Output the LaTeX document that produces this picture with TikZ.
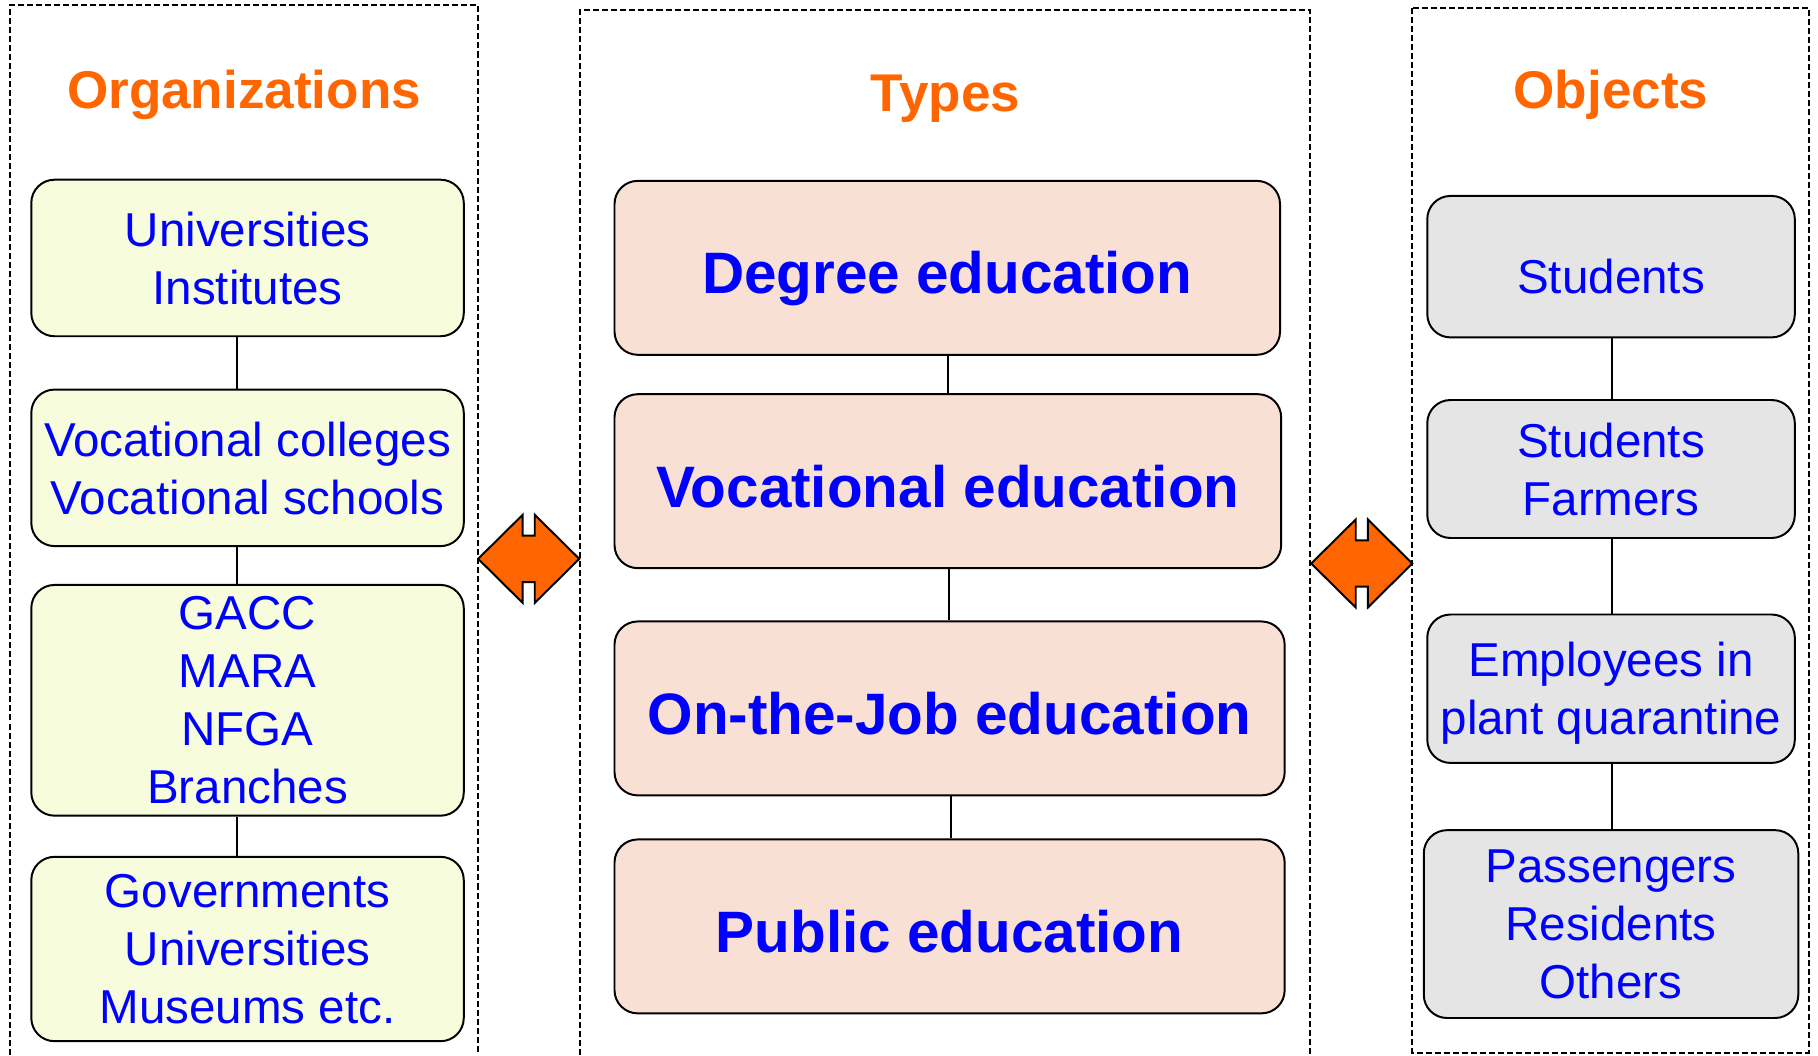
\documentclass[tikz,border=0pt]{standalone}
\usepackage{fontspec}
\setmainfont{Liberation Sans}
\usepackage{tikz}
\usepackage{xcolor}
\definecolor{titleorange}{RGB}{255,102,0}
\definecolor{textblue}{RGB}{0,0,255}
\definecolor{orgfill}{RGB}{247,252,220}
\definecolor{typefill}{RGB}{248,224,212}
\definecolor{objfill}{RGB}{229,229,229}
\tikzset{
  colframe/.style={
    draw, line width=0.85pt,
    dash pattern=on 2.6pt off 1.3pt
   }}
\tikzset{
  coltitle/.style={
    anchor=base, text=titleorange,
    font=\bfseries\fontsize{22.9}{27}\selectfont
   }}
\tikzset{
  card/.style={
    draw, line width=0.85pt, rounded corners=10pt,
    inner sep=0pt, align=center, text depth=0pt, text=textblue,
    font=\fontsize{20.5}{25}\selectfont, minimum width=#1
   }}
\tikzset{
  typecard/.style={
    card=#1, fill=typefill, text height=22.5pt, minimum height=75pt,
    font=\bfseries\fontsize{25.2}{30}\selectfont
   }}
\tikzset{
  link/.style={line width=0.85pt}}
\tikzset{
  dblarrow/.pic={
    \draw[fill=titleorange, line width=0.85pt, line join=miter]
      (-43.6,0) -- (-5.2,-38) -- (-5.2,-20) -- (5.2,-20) -- (5.2,-38)
      -- (43.6,0) -- (5.2,38) -- (5.2,20) -- (-5.2,20) -- (-5.2,38) -- cycle;
   }}

\begin{document}
\begin{tikzpicture}[x=0.5pt,y=-0.5pt]
    \useasboundingbox (0,0) rectangle (1568,910);
    \draw[colframe] (9,910) |- (412,4) -- (412,910);
    \draw[colframe] (500,910) |- (1130,9) -- (1130,910);
    \draw[colframe] (1218,7) rectangle (1560,908);

    \node[coltitle] (orgtitle) at (210.5,93.4) {Organizations};
    \node[coltitle] (typetitle) at (815.5,96.5) {Types};
    \node[coltitle] (objtitle) at (1389.5,93.4) {Objects};

    \node[card=186.5pt, fill=orgfill, minimum height=67.5pt] (L1) at (213.5,222.5) {Universities\\Institutes};
    \node[card=186.5pt, fill=orgfill, minimum height=67.5pt] (L2) at (213.5,403.5) {Vocational colleges\\Vocational schools};
    \node[card=186.5pt, fill=orgfill, minimum height=99.5pt] (L3) at (213.5,604) {GACC\\MARA\\NFGA\\Branches};
    \node[card=186.5pt, fill=orgfill, minimum height=79.5pt] (L4) at (213.5,818.5) {Governments\\Universities\\Museums etc.};

    \node[typecard=287pt] (M1) at (817,231) {Degree education};
    \node[typecard=287.5pt] (M2) at (817.5,415) {Vocational education};
    \node[typecard=289pt] (M3) at (819,611) {On-the-Job education};
    \node[typecard=289pt] (M4) at (819,799) {Public education};

    \node[card=158.5pt, fill=objfill, minimum height=61pt, text height=23pt] (R1) at (1389.5,230) {Students};
    \node[card=158.5pt, fill=objfill, minimum height=59.5pt] (R2) at (1389.5,404.5) {Students\\Farmers};
    \node[card=158.5pt, fill=objfill, minimum height=64pt] (R3) at (1389.5,594) {Employees in\\plant quarantine};
    \node[card=161.5pt, fill=objfill, minimum height=81pt] (R4) at (1389.5,797) {Passengers\\Residents\\Others};

    \foreach \a/\b in {L1/L2,L2/L3,L3/L4}
        \draw[link] ([xshift=-4.5pt]\a.south) -- ([xshift=-4.5pt]\a.south |- \b.north);
    \foreach \a/\b in {M1/M2,M2/M3,M3/M4,R1/R2,R2/R3,R3/R4}
        \draw[link] ([xshift=0.5pt]\a.south) -- ([xshift=0.5pt]\a.south |- \b.north);

    \pic (orgtypes) at (456,482) {dblarrow};
    \pic (typeobjs) at (1174.5,486) {dblarrow};
\end{tikzpicture}
\end{document}
